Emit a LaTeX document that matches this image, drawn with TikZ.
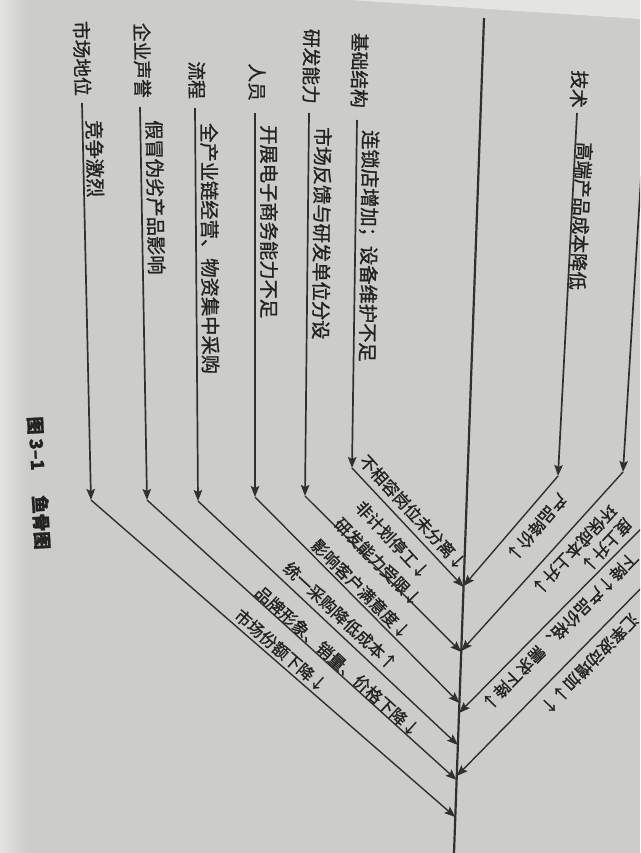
\documentclass[tikz,border=0pt]{standalone}
\usepackage{fontspec}
\setmainfont{Noto Sans CJK SC}[RawFeature={embolden=1.2}]
\usetikzlibrary{arrows.meta,calc}
\definecolor{paper}{RGB}{204,204,201}
\definecolor{paperlight}{RGB}{228,228,226}
\definecolor{ink}{RGB}{35,35,35}
\definecolor{linec}{RGB}{48,48,48}
\begin{document}
\begin{tikzpicture}[x=1pt,y=-1pt,
  tip/.style={-{Stealth[length=11pt,width=8.5pt,inset=2pt]}},
  bone/.style={draw=linec, line width=1.7pt, tip},
  twig/.style={draw=linec, line width=1.4pt, tip},
  spine/.style={draw=linec, line width=2.2pt},
  cat/.style={text=ink, inner sep=0pt, font=\fontsize{18.7}{20}\selectfont},
  cause/.style={text=ink, inner sep=0pt, font=\fontsize{19.3}{20}\selectfont},
  sub/.style={text=ink, inner sep=0pt, font=\fontsize{16.5}{17}\selectfont},
  capt/.style={text=ink, inner sep=0pt, font=\bfseries\fontsize{18}{19}\selectfont}]
\useasboundingbox (0,0) rectangle (640,853);
\clip (0,0) rectangle (640,853);
\fill[paper] (0,0) rectangle (640,853);
\shade[left color=paperlight, right color=paper] (0,0) rectangle (28,853);
\fill[paperlight] (350,0) -- (640,0) -- (640,19) -- cycle;

% spine
\coordinate (S1) at (484,18);
\coordinate (S2) at (454,853);
\draw[spine] (S1) -- (S2);

% junctions on the spine
\coordinate (JL1) at ($(S1)!0.6814!(S2)$);
\coordinate (JR1) at ($(S1)!0.6802!(S2)$);
\coordinate (JL2) at ($(S1)!0.7593!(S2)$);
\coordinate (JR2) at ($(S1)!0.7581!(S2)$);
\coordinate (JL3) at ($(S1)!0.8204!(S2)$);
\coordinate (JR3) at ($(S1)!0.8323!(S2)$);
\coordinate (JL4) at ($(S1)!0.8707!(S2)$);
\coordinate (JR4) at ($(S1)!0.9078!(S2)$);
\coordinate (JL5) at ($(S1)!0.9126!(S2)$);
\coordinate (JL6) at ($(S1)!0.9569!(S2)$);

% bone start and corner points
\coordinate (T0) at (577,113);  \coordinate (Tc) at (558,476);
\coordinate (Q0) at (650,30);   \coordinate (Qc) at (623,472);
\coordinate (R3c) at (699,470); \coordinate (R4c) at (757,470);
\coordinate (A0) at (357,120);  \coordinate (Ac) at (352,468);
\coordinate (B0) at (309,113);  \coordinate (Bc) at (305,496);
\coordinate (C0) at (255,113);  \coordinate (Cc) at (255,497);
\coordinate (D0) at (195,108);  \coordinate (Dc) at (198,501);
\coordinate (E0) at (140,107);  \coordinate (Ec) at (147,500);
\coordinate (F0) at (82,103);   \coordinate (Fc) at (91,500);

% right side bones
\draw[bone] (T0) -- (Tc);
\draw[bone] (Q0) -- (Qc);
\draw[twig] (Tc) -- (JR1);
\draw[twig] (Qc) -- (JR2);
\draw[twig] (R3c) -- (JR3);
\draw[twig] (R4c) -- (JR4);

% left side bones
\draw[bone] (A0) -- (Ac);  \draw[twig] (Ac) -- (JL1);
\draw[bone] (B0) -- (Bc);  \draw[twig] (Bc) -- (JL2);
\draw[bone] (C0) -- (Cc);  \draw[twig] (Cc) -- (JL3);
\draw[bone] (D0) -- (Dc);  \draw[twig] (Dc) -- (JL4);
\draw[bone] (E0) -- (Ec);  \draw[twig] (Ec) -- (JL5);
\draw[bone] (F0) -- (Fc);  \draw[twig] (Fc) -- (JL6);

% category labels
\node[cat, rotate=-93,   anchor=east] (kT) at (578,108) {技术};
\node[cat, rotate=-90.8, anchor=east] (kA) at (359,108) {基础结构};
\node[cat, rotate=-90.6, anchor=east] (kB) at (311,104) {研发能力};
\node[cat, rotate=-90,   anchor=east] (kC) at (257,101) {人员};
\node[cat, rotate=-89.6, anchor=east] (kD) at (197,99)  {流程};
\node[cat, rotate=-89,   anchor=east] (kE) at (143,98)  {企业声誉};
\node[cat, rotate=-88.7, anchor=east] (kF) at (83,96)   {市场地位};

% causes along the bones
\node[cause, rotate=-93,   anchor=west, font=\fontsize{18.5}{19}\selectfont] (dT) at (585,142) {高端产品成本降低};
\node[cause, rotate=-90.8, anchor=west] (dA) at (370,130) {连锁店增加；设备维护不足};
\node[cause, rotate=-90.6, anchor=west] (dB) at (323,127) {市场反馈与研发单位分设};
\node[cause, rotate=-90,   anchor=west] (dC) at (269,125) {开展电子商务能力不足};
\node[cause, rotate=-89.6, anchor=west] (dD) at (209,123) {全产业链经营、物资集中采购};
\node[cause, rotate=-89,   anchor=west] (dE) at (154,120) {假冒伪劣产品影响};
\node[cause, rotate=-88.7, anchor=west] (dF) at (94,120)  {竞争激烈};

% effects along the left diagonals
\node[sub, rotate=-47.5] (sA1) at (413,512.5) {不相容岗位未分离↓};
\node[sub, rotate=-47]   (sA2) at (392.5,540) {非计划停工↓};
\node[sub, rotate=-45.5] (sB)  at (378,562)   {研发能力受限↓};
\node[sub, rotate=-45.2] (sC)  at (361,589)   {影响客户满意度↓};
\node[sub, rotate=-43.2] (sD)  at (340.5,616) {统一采购降低成本↑};
\node[sub, rotate=-42.1] (sE)  at (337.5,661.5) {品牌形象、销量、价格下降↓};
\node[sub, rotate=-41]   (sF)  at (281,650.5) {市场份额下降↓};

% effects along the right diagonals
\node[sub, rotate=-131]   (rT)  at (536.5,527.5) {产品降价↓};
\node[sub, rotate=-133]   (rQ1) at (574,550)     {环保成本上升↓};
\node[sub, rotate=-133]   (rQ2) at (606.5,545.5) {度上升↓};
\node[sub, rotate=-134.7] (r3)  at (560,631)     {下降↑产品价格、需求下降↓};
\node[sub, rotate=-134]   (r4)  at (589.5,664)   {汇率波动增加↓↑};

% caption
\node[capt, rotate=-86.6] (cap) at (39,483) {图 3–1\hspace{1.4em}鱼骨图};
\end{tikzpicture}
\end{document}
